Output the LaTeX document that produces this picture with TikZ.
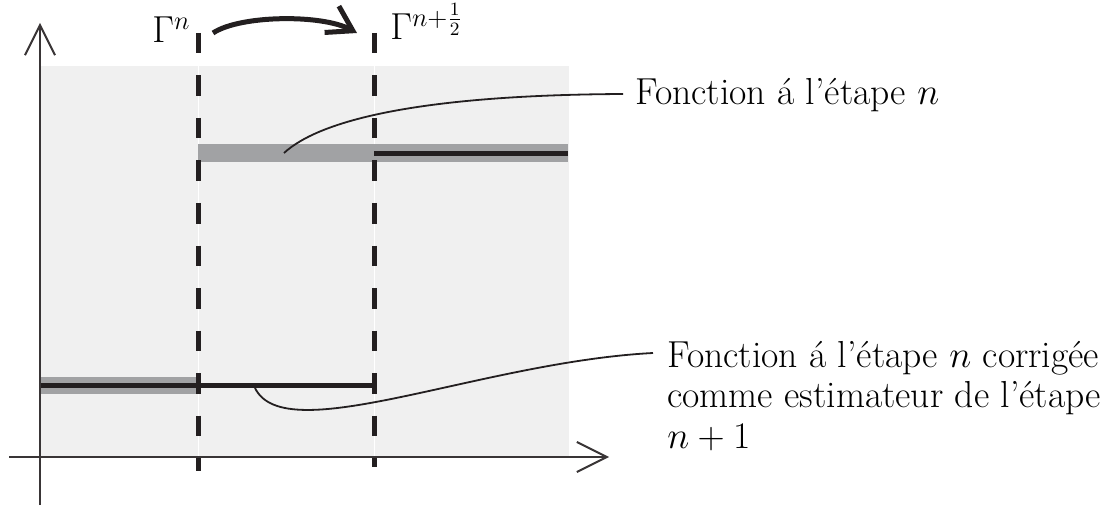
\RequirePackage{fix-cm}
\documentclass[tikz,border=0pt]{standalone}
\usepackage{fontspec}
\usetikzlibrary{arrows.meta}
\definecolor{bgg}{HTML}{F0F0F0}
\definecolor{barg}{HTML}{A1A2A4}
\definecolor{ink}{HTML}{231F20}
\tikzset{
  axis/.style={line width=1pt, draw=ink!90, -{Straight Barb[length=15pt,width=15pt]}},
  grayband/.style={line width=9pt, draw=barg},
  blackline/.style={line width=2.5pt, draw=ink},
  gammaline/.style={line width=2.5pt, draw=ink, dash pattern=on 10.25pt off 11pt},
  callout/.style={line width=0.9pt, draw=ink},
  lbl/.style={anchor=base west, inner ysep=0pt, font=\fontsize{18.8}{20.3}\selectfont},
  bigarrow/.style={line width=2.5pt, draw=ink, -{Straight Barb[length=12pt,width=15pt]}}
}
\begin{document}
\begin{tikzpicture}[x=0.5pt,y=-0.5pt]
\useasboundingbox (0,0) rectangle (1120,508);
% background
\fill[bgg] (40,66) rectangle (569,457);
\draw[white, line width=0.5pt] (198.5,66) -- (198.5,457);
\draw[white, line width=0.5pt] (374,66) -- (374,457);
% bands
\draw[grayband] (198,153) -- (568,153);
\draw[blackline] (374,153.5) -- (568,153.5);
\draw[grayband, line width=8.5pt] (40,385.5) -- (199,385.5);
\draw[blackline] (40,385) -- (376,385);
% axes
\coordinate (yb) at (40,505);
\coordinate (yt) at (40,23);
\coordinate (xl) at (9,457);
\coordinate (xr) at (609,457);
\draw[axis] (yb) -- (yt);
\draw[axis] (xl) -- (xr);
% gamma lines
\draw[gammaline] (198.5,33) -- (198.5,471);
\draw[gammaline] (374,33) -- (374,467);
% labels
\node[lbl, inner xsep=0pt] (g1) at (152,43) {$\Gamma^{n}$};
\node[lbl, inner xsep=0pt] (g2) at (390,40) {$\Gamma^{n+\frac{1}{2}}$};
\coordinate (as) at (213,33);
\coordinate (ae) at (357,33);
\draw[bigarrow] (as) .. controls (240,15) and (322,14) .. (ae);
\node[lbl, inner xsep=6pt] (l1) at (623,105) {Fonction á l'étape $n$};
\node[lbl, inner xsep=7pt] (l2) at (653,367) {\begin{tabular}[t]{@{}l@{}}Fonction á l'étape $n$ corrigée\\comme estimateur de l'étape\\$n+1$\end{tabular}};
% callouts
\coordinate (c1) at (284,153);
\coordinate (c2) at (255,388);
\draw[callout] (c1) .. controls (320,120) and (420,95) .. ([yshift=5.5pt]l1.base west);
\draw[callout] (c2) .. controls (285,450) and (480,362) .. ([yshift=7pt]l2.base west);
\end{tikzpicture}
\end{document}
